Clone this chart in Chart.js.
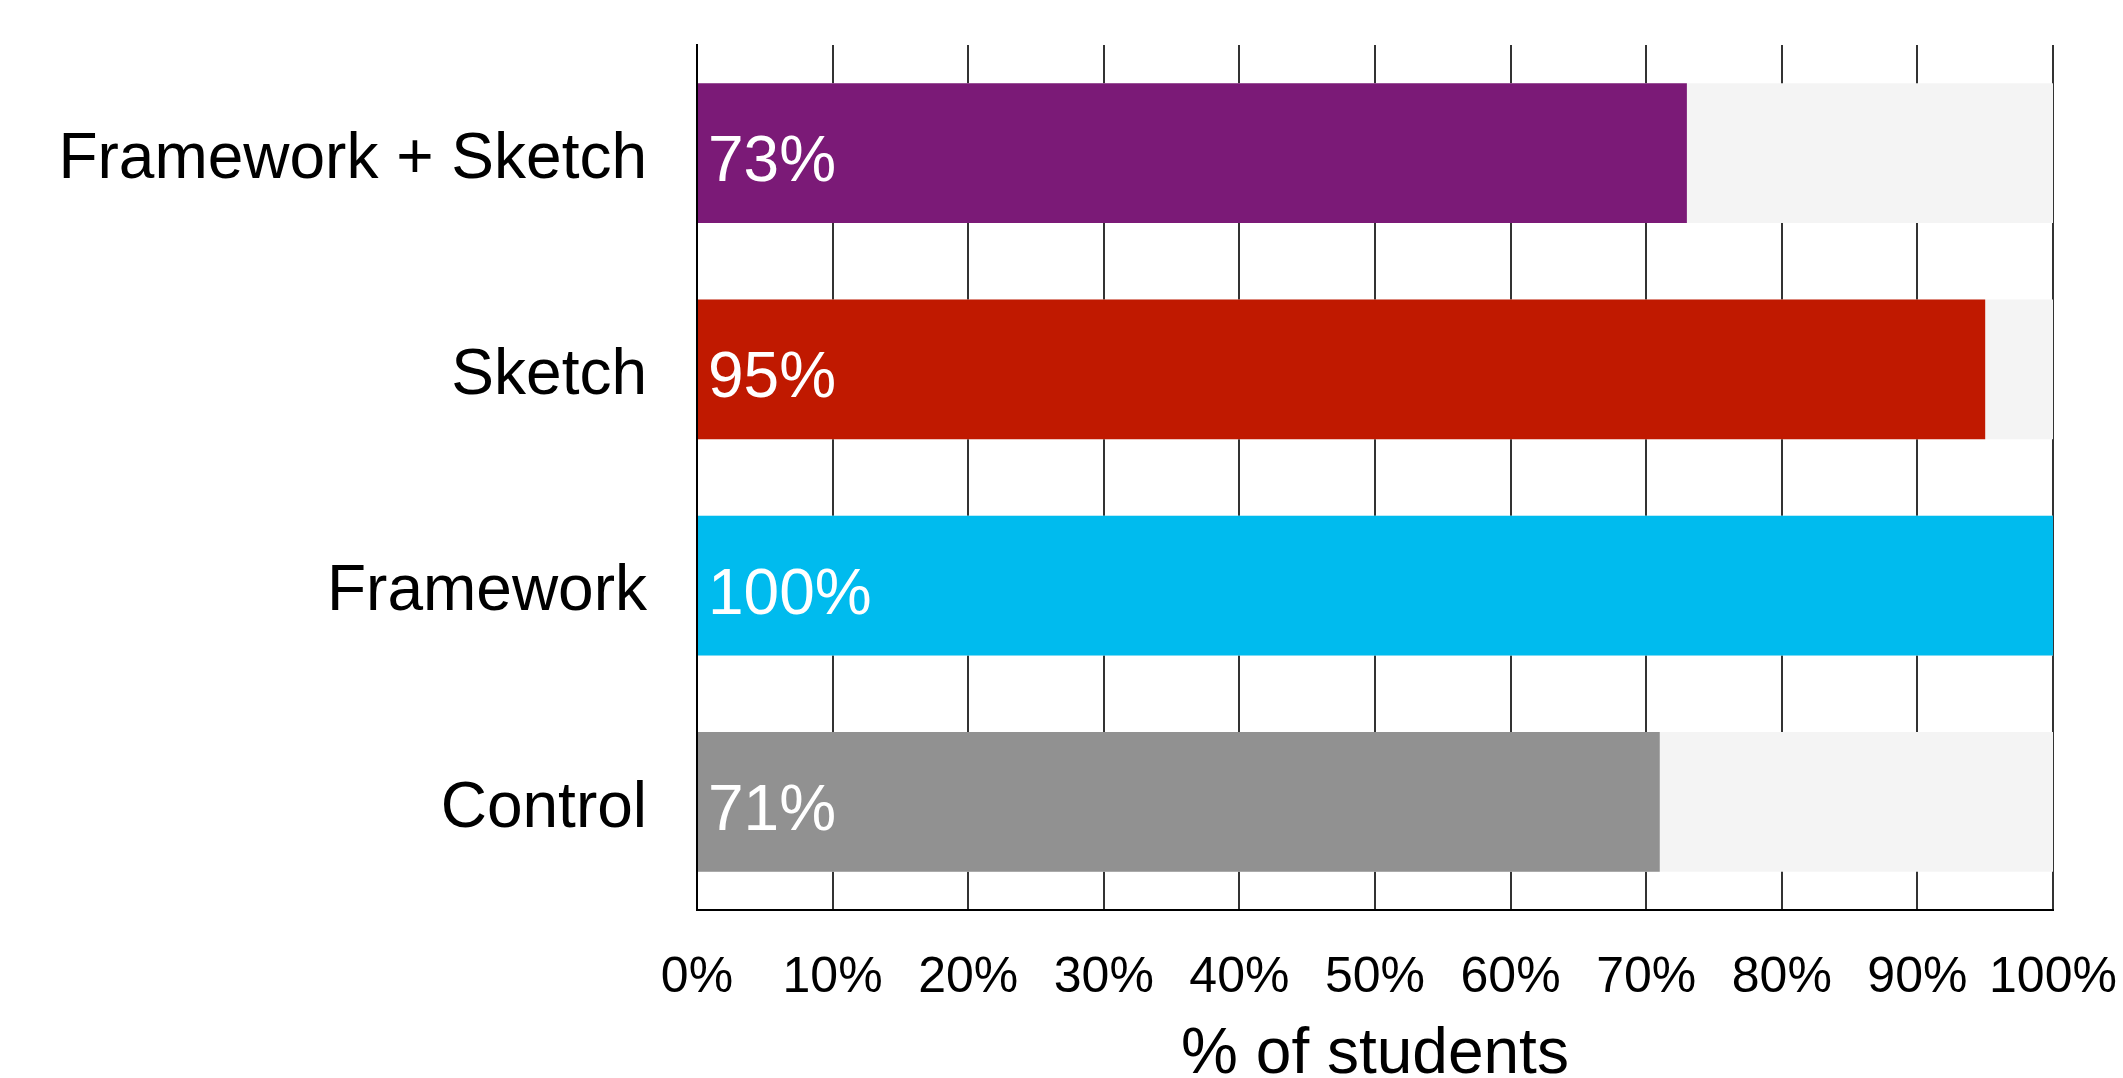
<!DOCTYPE html>
<html>
<head>
<meta charset="utf-8">
<script src="https://cdn.jsdelivr.net/npm/chart.js@4"></script>
<style>
    html, body { margin: 0; padding: 0; background: #fff; }
    canvas { display: block; }
</style>
</head>
<body>
<canvas id="studentsChart" width="2123" height="1078"></canvas>
<script>
// Groupes et pourcentages d'étudiants
const groups = ["Framework + Sketch", "Sketch", "Framework", "Control"];
const percents = [73, 95, 100, 71];
const fullScale = [100, 100, 100, 100];
const barColors = ["#7b1a77", "#c01900", "#00bbee", "#919191"];
const xTicks = [0, 10, 20, 30, 40, 50, 60, 70, 80, 90, 100];

const FONT = "'Liberation Sans', Arial, Helvetica, sans-serif";

// Pourcentage écrit en blanc au début de chaque barre
const valueLabels = {
    id: "valueLabels",
    afterDatasetsDraw(chart) {
        const ctx = chart.ctx;
        const meta = chart.getDatasetMeta(1);
        ctx.save();
        ctx.fillStyle = "#ffffff";
        ctx.font = "64px " + FONT;
        ctx.textAlign = "left";
        ctx.textBaseline = "alphabetic";
        meta.data.forEach((bar, i) => {
            ctx.fillText(percents[i] + "%", bar.base + 10, bar.y + 28);
        });
        ctx.restore();
    }
};

const ctx = document.getElementById("studentsChart").getContext("2d");
new Chart(ctx, {
    type: "bar",
    data: {
        labels: groups,
        datasets: [
            {
                label: "Total",
                data: fullScale,
                backgroundColor: "#f4f4f4",
                borderWidth: 0,
                grouped: false,
                order: 2,
            },
            {
                label: "% of students",
                data: percents,
                backgroundColor: barColors,
                borderWidth: 0,
                grouped: false,
                order: 1,
            },
        ],
    },
    options: {
        indexAxis: "y",
        responsive: false,
        animation: false,
        devicePixelRatio: 1,
        layout: { padding: { top: 45, right: 70, bottom: 0, left: 0 } },
        datasets: {
            bar: { categoryPercentage: 1, barPercentage: 0.647 },
        },
        plugins: {
            legend: { display: false },
            tooltip: { enabled: false },
        },
        scales: {
            x: {
                min: 0,
                max: 100,
                afterBuildTicks: scale => {
                    scale.ticks = xTicks.map(v => ({ value: v }));
                },
                afterFit: scale => {
                    scale.height = 168;
                    scale.paddingLeft = 0;
                    scale.paddingRight = 0;
                },
                grid: {
                    color: "#333333",
                    lineWidth: 2,
                    drawTicks: false,
                },
                border: { color: "#000", width: 2 },
                ticks: {
                    color: "#000",
                    padding: 38,
                    maxRotation: 0,
                    autoSkip: false,
                    font: { family: FONT, size: 50 },
                    callback: value => value + "%",
                },
                title: {
                    display: true,
                    text: "% of students",
                    color: "#000",
                    padding: 0,
                    font: { family: FONT, size: 64, lineHeight: 0.7 },
                },
            },
            y: {
                afterFit: scale => {
                    scale.width = 697;
                    scale.paddingTop = 0;
                    scale.paddingBottom = 0;
                },
                grid: { display: false, drawTicks: false },
                border: { color: "#000", width: 2 },
                ticks: {
                    color: "#000",
                    padding: 50,
                    labelOffset: 7,
                    font: { family: FONT, size: 64 },
                },
            },
        },
    },
    plugins: [valueLabels],
});
</script>
</body>
</html>
